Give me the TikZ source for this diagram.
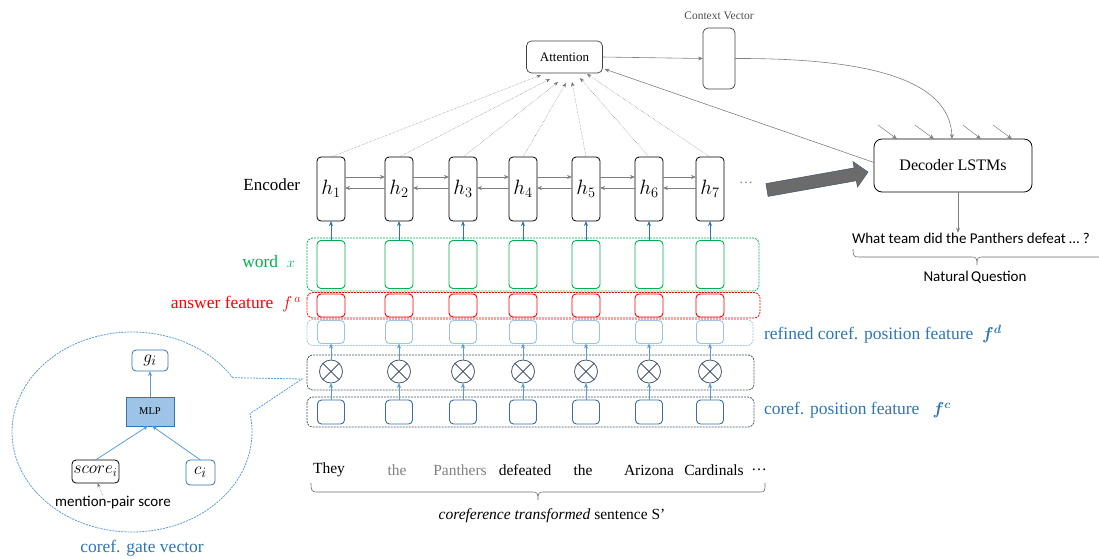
\documentclass[tikz,border=0pt]{standalone}
\usepackage{fontspec}
\setmainfont{Liberation Serif}
\newfontfamily\calfont{Carlito}
\usepackage{bm}
\usetikzlibrary{arrows.meta,calc}
\definecolor{cgreen}{HTML}{00B050}
\definecolor{cred}{HTML}{FF0000}
\definecolor{cblue}{HTML}{2E75B6}
\definecolor{clblue}{HTML}{9DC3E6}
\definecolor{cmblue}{HTML}{5B9BD5}
\definecolor{cdblue}{HTML}{3A6EA5}
\definecolor{cslate}{HTML}{44546A}
\definecolor{cgray}{HTML}{7F7F7F}
\newcommand{\fs}[1]{\fontsize{#1}{#1}\selectfont}
\begin{document}
\begin{tikzpicture}[x=1pt,y=-1pt,
  every node/.style={inner sep=0pt,outer sep=0pt},
  hbox/.style={draw=black,line width=0.8pt,rounded corners=4pt,minimum width=28pt,minimum height=64pt,font=\fs{21}},
  wbox/.style={draw=cgreen,line width=0.9pt,rounded corners=4pt,minimum width=28pt,minimum height=48pt},
  abox/.style={draw=cred,line width=0.9pt,rounded corners=4pt,minimum width=28pt,minimum height=23pt},
  rbox/.style={draw=clblue,line width=0.9pt,rounded corners=4pt,minimum width=27pt,minimum height=23pt},
  cbox/.style={draw=cdblue,line width=0.9pt,rounded corners=4pt,minimum width=27pt,minimum height=24pt},
  ocirc/.style={draw=cslate,line width=0.8pt,circle,minimum size=23pt},
  rowbox/.style={rounded corners=6pt,line width=0.8pt,dash pattern=on 2pt off 1pt},
  bluearr/.style={cblue,line width=0.8pt,-{Stealth[length=5pt,width=4pt]}},
  grayarr/.style={cgray,line width=0.6pt,-{Stealth[length=5pt,width=4pt]}},
  attarr/.style={black!55,line width=0.45pt,densely dotted,-{Stealth[length=4.5pt,width=3.5pt]}},
  lbl/.style={font=\fs{17.5}},
  word/.style={font=\fs{15.5}},
  bracket/.style={gray!85!black,line width=0.6pt}]
\useasboundingbox (0,0) rectangle (1099,558);

% ----- row frames -----
\draw[rowbox,draw=cgreen] (307,238) rectangle (759,291);
\draw[rowbox,draw=cred] (307,292.5) rectangle (760,318);
\draw[rowbox,draw=clblue] (307,319.5) rectangle (753,345.5);
\draw[rowbox,draw=cslate] (307,355) rectangle (754,390);
\draw[rowbox,draw=cslate] (307,397) rectangle (754,427);

% ----- columns -----
\foreach \x [count=\i] in {331,399,463,523,586,649,710}{
  \node[hbox] (h\i) at (\x,189) {$h_{\i}$};
  \node[wbox] (w\i) at (\x,264.5) {};
  \node[abox] (a\i) at (\x,305.5) {};
  \node[rbox] (r\i) at (\x,332) {};
  \node[ocirc] (o\i) at (\x,371.5) {};
  \draw[cslate,line width=0.8pt] (o\i.north east) -- (o\i.south west) (o\i.north west) -- (o\i.south east);
  \node[cbox] (c\i) at (\x,412) {};
  \draw[bluearr] (w\i.north) -- (h\i.south);
  \draw[bluearr,cmblue] (c\i.north) -- (o\i.south);
  \draw[bluearr,cmblue] (o\i.north) -- (r\i.south);
}
\node[font=\fs{14},text=gray] (hdots) at (746,183) {\dots};

% horizontal recurrent arrows
\foreach \i/\j in {1/2,2/3,3/4,4/5,5/6,6/7}{
  \draw[grayarr] ([yshift=12pt]h\i.east) -- ([yshift=12pt]h\j.west);
  \draw[grayarr] ([yshift=1pt]h\j.west) -- ([yshift=1pt]h\i.east);
}

% ----- attention -----
\node[draw=black!75,line width=0.7pt,rounded corners=5pt,minimum width=76pt,minimum height=32pt,font=\fs{13}] (att) at (564.5,57) {Attention};
\node[draw=black!75,line width=0.7pt,rounded corners=5pt,minimum width=32pt,minimum height=61pt] (ctx) at (719,58.5) {};
\node[font=\fs{11.5},text=black!70] (ctxl) at (719,16) {Context Vector};
\draw[grayarr] (att.east) -- (ctx.west);

\foreach \i/\ex/\ey in {1/541/75,2/550/79,3/558/82,4/566/83,5/572/82,6/580/78,7/587/74}{
  \coordinate (e\i) at (\ex,\ey);
  \draw[attarr] (h\i.north) -- (e\i);
}

% ----- decoder -----
\node[draw=black,line width=0.8pt,rounded corners=8pt,minimum width=158pt,minimum height=53pt,font=\fs{16}] (dec) at (953,165.5) {Decoder LSTMs};
\draw[grayarr] (ctx.east) .. controls (870,58) and (950,80) .. ([xshift=-1pt]dec.north);
\draw[grayarr] ([yshift=3pt]dec.west) -- ([xshift=2pt,yshift=4pt]att.south east);
\foreach \sx/\ex in {878/897,915/934,963/981,993/1012}{
  \coordinate (s\sx) at (\sx,125);
  \draw[grayarr,line width=0.5pt] (s\sx) -- (\ex,139);
}
% thick arrow
\filldraw[fill=black!58,draw=cslate,line width=0.5pt] (765.9,183.6) -- (854.1,167.9) -- (852.9,161.5) -- (868,172) -- (857.5,187.1) -- (856.3,180.7) -- (768.1,196.4) -- cycle;

\node[font=\calfont\fs{15},anchor=west] (q) at (852,238) {What team did the Panthers defeat \dots\ ?};
\draw[grayarr] ([xshift=5pt]dec.south) -- ([xshift=5pt]dec.south |- q.north);
\draw[bracket] (853,249) .. controls (853,256) and (854,257) .. (859,257) -- (972,257) .. controls (976,257) and (977,258) .. (977,265) .. controls (977,258) and (978,257) .. (982,257) -- (1105,257);
\node[font=\calfont\fs{15}] (nq) at (975,277) {Natural\,Question};

% ----- labels -----
\node[font=\fs{17},anchor=east] (enc) at (300,185) {Encoder};
\node[lbl,text=cgreen,anchor=east] (wl) at (295,262) {word \ \fs{15}$x$};
\node[lbl,text=cred,anchor=east] (al) at (301,304) {answer feature \ $f^{\,a}$};
\node[lbl,text=cblue,anchor=west] (rl) at (764,334) {refined coref. position feature \ $\bm{f}^{\bm{d}}$};
\node[lbl,text=cblue,anchor=west] (cl) at (764,410) {coref. position feature \ \ $\bm{f}^{\bm{c}}$};

% ----- sentence -----
\foreach \x/\w/\c in {329/They/black,397/the/gray,460/Panthers/gray,525/defeated/black,583/the/black,649/Arizona/black,714/Cardinals/black,759/\dots/black}{
  \node[word,text=\c] (s\x) at (\x,470) {\w};
}
\draw[bracket] (311,483) .. controls (311,491) and (312,492) .. (317,492) -- (533,492) .. controls (537,492) and (538,493) .. (538,500) .. controls (538,493) and (539,492) .. (543,492) -- (760,492) .. controls (765,492) and (765,491) .. (765,483);
\node[word] (sl) at (552,516) {\textit{coreference transformed} sentence S’};

% ----- gate balloon -----
\draw[cmblue,line width=0.8pt,dash pattern=on 2pt off 1pt] plot[domain=32.9:370.6,samples=120] ({132+120*cos(\x)},{432-100*sin(\x)}) -- (302,379) -- cycle;
\node[draw=cblue,line width=0.8pt,rounded corners=4pt,minimum width=36pt,minimum height=21pt,font=\fs{19}] (g) at (150,360.5) {$g_i$};
\node[draw=cblue,fill=clblue,line width=0.8pt,minimum width=48pt,minimum height=29pt,font=\fs{10.5}] (mlp) at (150,411.5) {MLP};
\node[draw=black,line width=0.8pt,rounded corners=4pt,minimum width=47pt,minimum height=23pt,font=\fs{18}] (score) at (95.5,471.5) {$score_i$};
\node[draw=cblue,line width=0.8pt,rounded corners=4pt,minimum width=29pt,minimum height=25pt,font=\fs{19}] (ci) at (200.5,472.5) {$c_i$};
\draw[bluearr,cmblue] (mlp.north) -- (g.south);
\draw[bluearr,cmblue] (score.north) -- ([xshift=-2pt]mlp.south);
\draw[bluearr,cmblue] (ci.north) -- ([xshift=2pt]mlp.south);
\node[font=\calfont\fs{15}] (mps) at (113,503) {mention-pair score};
\coordinate (mpa) at (103,496);
\draw[attarr] (mpa) -- ([xshift=2pt]score.south);
\node[lbl,text=cblue] (gv) at (142,548) {coref. gate vector};
\end{tikzpicture}
\end{document}
